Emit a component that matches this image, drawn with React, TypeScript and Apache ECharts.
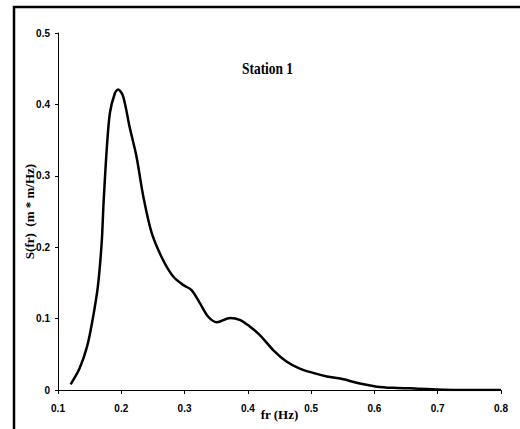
import React, { useEffect, useRef } from "react";
import * as echarts from "echarts";

const freq = [0.12, 0.134, 0.146, 0.155, 0.163, 0.169, 0.172, 0.177, 0.182, 0.19, 0.195, 0.203, 0.213, 0.224, 0.235, 0.248, 0.266, 0.282, 0.298, 0.311, 0.324, 0.337, 0.351, 0.372, 0.388, 0.403, 0.419, 0.44, 0.461, 0.482, 0.503, 0.525, 0.551, 0.577, 0.604, 0.63, 0.656, 0.683, 0.709, 0.75, 0.8];
const spectrum = [0.008, 0.03, 0.061, 0.1, 0.145, 0.206, 0.262, 0.337, 0.388, 0.416, 0.421, 0.411, 0.369, 0.327, 0.27, 0.22, 0.182, 0.159, 0.147, 0.14, 0.122, 0.103, 0.095, 0.101, 0.098, 0.089, 0.077, 0.056, 0.04, 0.03, 0.024, 0.019, 0.015, 0.009, 0.0047, 0.003, 0.0023, 0.0014, 0.0005, 0.0001, 0.0];
const titleText = "Station 1";
const xName = "fr (Hz)";
const yName = "S(fr)  (m * m/Hz)";

export default function App() {
  const ref = useRef<HTMLDivElement>(null);
  useEffect(() => {
    const chart = echarts.init(ref.current!, undefined, { renderer: "svg" });
    const tickFont = { fontFamily: "Liberation Sans", fontWeight: "bold" as const, fontSize: 10, color: "#000" };
    chart.setOption({
      animation: false,
      backgroundColor: "#fff",
      graphic: [
        {
          type: "rect",
          shape: { x: 14, y: 7, width: 520, height: 440 },
          style: { fill: "none", stroke: "#000", lineWidth: 2.5 },
          silent: true,
        },
        {
          type: "text",
          x: 242,
          y: 68,
          scaleX: 0.79,
          style: {
            text: titleText,
            fontFamily: "Liberation Serif",
            fontWeight: "bold",
            fontSize: 17,
            fill: "#000",
            verticalAlign: "middle",
            align: "left",
          },
          silent: true,
        },
      ],
      grid: { left: 58, right: 19, top: 33, bottom: 39 },
      xAxis: {
        type: "value",
        min: 0.1,
        max: 0.8,
        interval: 0.1,
        name: xName,
        nameLocation: "middle",
        nameGap: 18,
        nameMoveOverlap: false,
        nameTextStyle: { fontFamily: "Liberation Serif", fontWeight: "bold", fontSize: 13, color: "#000" },
        axisLine: { lineStyle: { color: "#000", width: 1 } },
        axisTick: { show: true, length: 4, lineStyle: { color: "#000" } },
        splitLine: { show: false },
        axisLabel: { ...tickFont, margin: 13, formatter: (v: number) => v.toFixed(1) },
      },
      yAxis: {
        type: "value",
        min: 0,
        max: 0.5,
        interval: 0.1,
        name: yName,
        nameLocation: "middle",
        nameRotate: 90,
        nameGap: 22,
        nameMoveOverlap: false,
        nameTextStyle: { fontFamily: "Liberation Serif", fontWeight: "bold", fontSize: 13, color: "#000" },
        axisLine: { show: true, lineStyle: { color: "#000", width: 1 } },
        axisTick: { show: true, length: 3, lineStyle: { color: "#000" } },
        splitLine: { show: false },
        axisLabel: { ...tickFont, margin: 8, formatter: (v: number) => (v === 0 ? "0" : v.toFixed(1)) },
      },
      series: [
        {
          type: "line",
          data: freq.map((f, i) => [f, spectrum[i]]),
          smooth: 0.3,
          showSymbol: false,
          lineStyle: { color: "#000", width: 2.5 },
        },
      ],
    });
    return () => chart.dispose();
  }, []);
  return <div ref={ref} style={{ width: 520, height: 429, position: "absolute", left: 0, top: 0 }} />;
}
